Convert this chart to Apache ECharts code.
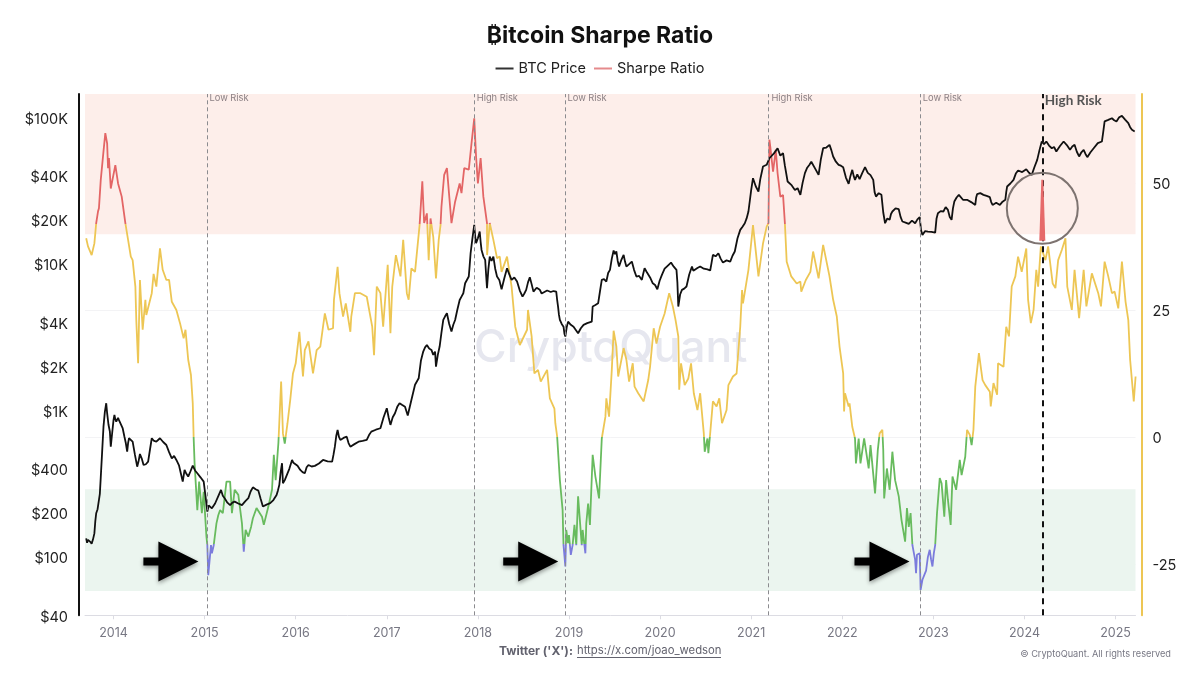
<!DOCTYPE html>
<html>
<head>
<meta charset="utf-8">
<title>Bitcoin Sharpe Ratio</title>
<script src="https://cdn.jsdelivr.net/npm/echarts@6/dist/echarts.min.js"></script>
<style>
  html, body { margin: 0; padding: 0; background: #fff; }
  #chart { width: 1200px; height: 675px; }
</style>
</head>
<body>
<div id="chart"></div>
<script>
// [decimal year, price in USD]
const priceData = [
  [2013.70,134],[2013.71,125],[2013.72,131],[2013.73,135],[2013.745,127],[2013.76,123],[2013.775,132],[2013.79,145],[2013.80,175],[2013.81,199],
  [2013.825,212],[2013.84,209],[2013.85,270],[2013.86,350],[2013.875,520],[2013.89,776],[2013.905,980],[2013.92,1122],[2013.93,959],[2013.945,800],
  [2013.96,720],[2013.97,567],[2013.985,700],[2014.00,860],[2014.01,933],[2014.02,870],[2014.03,840],[2014.05,890],[2014.06,860],[2014.08,840],
  [2014.10,760],[2014.12,663],[2014.135,600],[2014.15,524],[2014.16,600],[2014.17,647],[2014.19,630],[2014.21,613],[2014.235,500],[2014.26,414],
  [2014.275,450],[2014.29,505],[2014.31,470],[2014.33,425],[2014.355,430],[2014.38,448],[2014.40,540],[2014.42,647],[2014.445,620],[2014.47,613],
  [2014.49,630],[2014.51,647],[2014.545,610],[2014.58,582],[2014.61,520],[2014.64,472],[2014.665,490],[2014.69,460],[2014.72,420],[2014.74,370],
  [2014.76,327],[2014.78,393],[2014.80,370],[2014.82,354],[2014.845,385],[2014.87,421],[2014.895,390],[2014.92,373],[2014.955,350],[2014.99,327],
  [2015.01,260],[2015.03,204],[2015.045,225],[2015.06,226],[2015.08,215],[2015.10,221],[2015.115,232],[2015.13,239],[2015.155,265],[2015.18,287],
  [2015.20,262],[2015.22,252],[2015.25,235],[2015.28,226],[2015.305,235],[2015.33,239],[2015.37,232],[2015.41,226],[2015.445,240],[2015.48,252],
  [2015.505,280],[2015.53,299],[2015.56,290],[2015.59,284],[2015.615,250],[2015.64,221],[2015.68,228],[2015.72,233],[2015.755,245],[2015.79,265],
  [2015.805,285],[2015.82,310],[2015.835,380],[2015.85,437],[2015.86,319],[2015.88,335],[2015.90,327],[2015.93,400],[2015.96,460],[2015.975,440],
  [2015.99,448],[2016.02,420],[2016.05,393],[2016.075,380],[2016.10,373],[2016.12,410],[2016.14,425],[2016.175,415],[2016.21,419],[2016.255,435],
  [2016.30,460],[2016.35,450],[2016.40,448],[2016.415,500],[2016.43,567],[2016.445,670],[2016.46,737],[2016.475,660],[2016.49,630],[2016.525,650],
  [2016.56,663],[2016.58,600],[2016.60,567],[2016.645,590],[2016.69,613],[2016.735,620],[2016.78,630],[2016.805,680],[2016.83,718],[2016.88,740],
  [2016.93,757],[2016.965,900],[2017.00,1037],[2017.02,900],[2017.04,798],[2017.065,900],[2017.09,959],[2017.115,1060],[2017.14,1122],[2017.17,1090],
  [2017.20,1060],[2017.23,925],[2017.27,1180],[2017.31,1500],[2017.35,1661],[2017.375,2200],[2017.40,2527],[2017.42,2700],[2017.44,2806],[2017.465,2650],
  [2017.49,2594],[2017.51,2400],[2017.53,2527],[2017.54,1995],[2017.56,2400],[2017.58,2735],[2017.60,3400],[2017.62,4156],[2017.64,4400],[2017.66,4616],
  [2017.685,3900],[2017.71,3460],[2017.73,3850],[2017.75,4156],[2017.775,4900],[2017.80,5690],[2017.82,6000],[2017.84,6324],[2017.86,7396],[2017.88,7500],
  [2017.90,8222],[2017.91,9800],[2017.92,11860],[2017.94,15000],[2017.96,18530],[2017.97,15500],[2017.98,13880],[2018.00,15000],[2018.02,16680],[2018.03,14200],
  [2018.04,12500],[2018.06,11300],[2018.08,10690],[2018.09,8500],[2018.10,6840],[2018.115,9200],[2018.13,11250],[2018.15,10500],[2018.17,11250],[2018.19,9300],
  [2018.21,8222],[2018.235,7800],[2018.26,6730],[2018.29,8000],[2018.32,9370],[2018.345,8500],[2018.37,7800],[2018.40,8100],[2018.43,7600],[2018.46,6600],
  [2018.49,6000],[2018.51,6300],[2018.53,6670],[2018.55,7500],[2018.57,8130],[2018.59,7300],[2018.61,6490],[2018.645,6900],[2018.68,6670],[2018.70,6300],
  [2018.72,6490],[2018.76,6600],[2018.80,6450],[2018.83,6550],[2018.86,6490],[2018.87,5700],[2018.88,5130],[2018.89,4500],[2018.90,4156],[2018.92,3900],
  [2018.94,3740],[2018.95,3350],[2018.96,3200],[2018.975,3700],[2018.99,4050],[2019.02,3850],[2019.05,3740],[2019.075,3550],[2019.10,3370],[2019.13,3650],
  [2019.16,3845],[2019.20,3950],[2019.25,4050],[2019.26,5130],[2019.29,5250],[2019.32,5400],[2019.34,6500],[2019.36,7800],[2019.385,7900],[2019.41,7600],
  [2019.43,8700],[2019.45,9130],[2019.47,10900],[2019.49,12370],[2019.505,11700],[2019.52,12190],[2019.535,10500],[2019.55,9620],[2019.575,10700],[2019.60,11560],
  [2019.615,10400],[2019.63,9620],[2019.66,10000],[2019.69,10400],[2019.715,9100],[2019.74,8222],[2019.77,8300],[2019.80,7800],[2019.815,8600],[2019.83,9370],
  [2019.85,8900],[2019.87,9130],[2019.895,8000],[2019.92,7396],[2019.945,7200],[2019.97,6730],[2019.995,7700],[2020.02,8440],[2020.05,9300],[2020.08,9700],
  [2020.12,10240],[2020.15,9600],[2020.18,9130],[2020.19,7500],[2020.20,5130],[2020.22,6200],[2020.24,6670],[2020.265,6800],[2020.29,7030],[2020.32,8500],
  [2020.35,9620],[2020.365,9000],[2020.38,8890],[2020.41,9400],[2020.44,9620],[2020.48,9300],[2020.52,9200],[2020.55,9040],[2020.565,10200],[2020.58,11560],
  [2020.61,11300],[2020.64,11860],[2020.665,10900],[2020.69,10240],[2020.73,10600],[2020.77,10400],[2020.795,11400],[2020.82,12190],[2020.85,15000],[2020.88,17130],
  [2020.905,18000],[2020.93,19010],[2020.95,20500],[2020.97,22860],[2021.00,32000],[2021.02,38600],[2021.05,34000],[2021.08,31260],[2021.10,38000],[2021.13,46350],
  [2021.15,45500],[2021.17,47650],[2021.20,52800],[2021.22,51500],[2021.25,57000],[2021.29,61800],[2021.32,55000],[2021.35,57200],[2021.37,47000],[2021.40,36640],
  [2021.42,37500],[2021.44,34760],[2021.46,35500],[2021.48,32100],[2021.51,33000],[2021.54,29700],[2021.565,36000],[2021.59,41800],[2021.615,45500],[2021.64,47650],
  [2021.66,50000],[2021.68,48900],[2021.71,44000],[2021.74,40640],[2021.765,52000],[2021.79,61800],[2021.825,62500],[2021.86,65200],[2021.88,60000],[2021.90,54300],
  [2021.93,50000],[2021.96,47650],[2021.985,47000],[2022.01,45900],[2022.04,39000],[2022.07,35300],[2022.09,40000],[2022.11,44000],[2022.125,40000],[2022.14,37600],
  [2022.165,41000],[2022.19,38000],[2022.22,42000],[2022.25,45900],[2022.28,42000],[2022.31,40500],[2022.34,37600],[2022.355,31000],[2022.37,28900],[2022.40,30500],
  [2022.43,29700],[2022.45,22500],[2022.47,19010],[2022.495,20500],[2022.52,20050],[2022.535,22000],[2022.55,22860],[2022.585,24000],[2022.62,23700],[2022.64,21000],
  [2022.66,19530],[2022.695,19200],[2022.73,18820],[2022.765,19800],[2022.80,19010],[2022.825,20200],[2022.85,20900],[2022.865,17000],[2022.88,15830],[2022.91,16800],
  [2022.94,16680],[2022.98,16600],[2023.02,16410],[2023.035,20500],[2023.05,22250],[2023.08,23000],[2023.11,22860],[2023.135,24500],[2023.16,23440],[2023.18,21000],
  [2023.20,20050],[2023.215,24000],[2023.23,26730],[2023.255,28500],[2023.28,29700],[2023.325,27500],[2023.37,27480],[2023.415,26500],[2023.46,25350],[2023.47,28500],
  [2023.48,30000],[2023.515,30500],[2023.55,29700],[2023.585,29200],[2023.62,28640],[2023.635,26500],[2023.65,25350],[2023.69,26200],[2023.73,25350],[2023.76,26700],
  [2023.79,27480],[2023.80,31000],[2023.81,33880],[2023.845,35500],[2023.88,37600],[2023.905,41500],[2023.93,43550],[2023.975,42500],[2024.02,44460],[2024.05,42000],
  [2024.08,40640],[2024.11,46000],[2024.14,51500],[2024.165,60000],[2024.19,68700],[2024.215,66000],[2024.24,68700],[2024.27,64500],[2024.30,61800],[2024.325,63000],
  [2024.35,58700],[2024.39,64000],[2024.43,68700],[2024.465,65000],[2024.50,60250],[2024.525,63500],[2024.55,65200],[2024.575,58500],[2024.60,54300],[2024.625,58000],
  [2024.65,60250],[2024.67,56500],[2024.69,53700],[2024.725,58000],[2024.76,61800],[2024.805,67000],[2024.85,68700],[2024.865,80000],[2024.88,94200],[2024.92,96500],
  [2024.96,99100],[2024.985,96000],[2025.01,94200],[2025.04,100500],[2025.07,102800],[2025.105,97000],[2025.14,91700],[2025.16,86000],[2025.18,82600],[2025.21,80400]
];

// [decimal year, sharpe ratio]
const sharpeData = [
  [2013.70,39.2],[2013.72,37.6],[2013.74,37.9],[2013.76,35.9],[2013.79,38.2],[2013.81,42.2],[2013.83,44.5],[2013.84,45.1],
  [2013.86,50.7],[2013.89,56.3],[2013.91,59.9],[2013.93,57.9],[2013.94,53.0],[2013.95,55.0],[2013.97,49.0],[2014.02,53.6],
  [2014.05,50.0],[2014.09,47.4],[2014.13,42.2],[2014.16,38.9],[2014.19,35.6],[2014.21,34.9],[2014.24,29.7],[2014.25,23.1],
  [2014.27,14.6],[2014.29,31.0],[2014.32,21.2],[2014.35,27.1],[2014.36,24.1],[2014.42,28.4],[2014.44,32.2],[2014.47,29.7],
  [2014.51,37.2],[2014.54,33.0],[2014.58,31.0],[2014.61,31.0],[2014.64,26.7],[2014.69,25.1],[2014.73,22.5],[2014.77,19.5],
  [2014.79,21.2],[2014.82,15.3],[2014.85,12.3],[2014.87,6.7],[2014.88,-0.2],[2014.89,-5.1],[2014.92,-14.3],[2014.94,-8.7],
  [2014.97,-14.9],[2014.99,-10.7],[2015.02,-19.5],[2015.03,-21.2],[2015.04,-27.1],[2015.07,-21.2],[2015.08,-22.8],[2015.10,-21.2],
  [2015.13,-16.9],[2015.15,-15.3],[2015.17,-14.3],[2015.20,-14.9],[2015.24,-8.7],[2015.28,-8.7],[2015.30,-14.9],[2015.33,-10.3],
  [2015.37,-11.3],[2015.41,-16.9],[2015.43,-22.5],[2015.45,-18.2],[2015.48,-19.5],[2015.51,-17.6],[2015.53,-15.9],[2015.57,-13.9],
  [2015.63,-15.6],[2015.65,-17.2],[2015.70,-13.6],[2015.74,-10.3],[2015.76,-3.4],[2015.78,-8.4],[2015.81,-1.1],[2015.84,11.0],
  [2015.86,0.8],[2015.88,-1.2],[2015.91,2.8],[2015.94,7.4],[2015.97,12.6],[2016.00,14.6],[2016.04,20.8],[2016.08,12.0],
  [2016.10,17.2],[2016.14,18.9],[2016.16,18.9],[2016.19,12.6],[2016.23,17.2],[2016.27,17.9],[2016.30,21.8],[2016.32,24.4],
  [2016.36,21.2],[2016.41,21.5],[2016.42,27.1],[2016.46,33.6],[2016.48,28.4],[2016.52,23.8],[2016.55,26.4],[2016.60,20.8],
  [2016.61,23.8],[2016.65,28.4],[2016.71,28.4],[2016.78,27.7],[2016.84,21.8],[2016.86,16.2],[2016.89,29.7],[2016.93,28.4],
  [2016.96,21.8],[2017.01,34.0],[2017.04,20.5],[2017.06,29.7],[2017.10,35.9],[2017.15,31.7],[2017.18,38.9],[2017.22,28.4],
  [2017.24,27.1],[2017.27,33.3],[2017.31,32.6],[2017.36,41.8],[2017.39,50.4],[2017.41,42.2],[2017.44,44.1],[2017.46,34.9],
  [2017.48,43.1],[2017.51,39.5],[2017.54,31.3],[2017.57,38.9],[2017.59,41.8],[2017.60,45.4],[2017.63,51.7],[2017.66,53.0],
  [2017.71,42.2],[2017.75,46.4],[2017.80,50.0],[2017.82,48.1],[2017.85,53.0],[2017.90,52.7],[2017.93,57.9],[2017.96,62.8],
  [2017.98,55.3],[2018.00,50.0],[2018.03,55.0],[2018.06,47.4],[2018.10,42.2],[2018.101,35.9],[2018.13,42.2],[2018.17,38.9],
  [2018.21,35.3],[2018.24,35.6],[2018.26,32.6],[2018.32,35.6],[2018.37,29.7],[2018.41,21.8],[2018.46,18.2],[2018.54,21.2],
  [2018.55,25.1],[2018.59,19.9],[2018.62,12.6],[2018.66,13.3],[2018.69,11.0],[2018.76,13.3],[2018.79,7.7],[2018.84,5.7],
  [2018.85,2.8],[2018.87,0.2],[2018.90,-8.4],[2018.93,-14.3],[2018.94,-21.2],[2018.96,-25.4],[2018.97,-18.2],[2018.99,-20.8],
  [2019.00,-19.2],[2019.02,-23.1],[2019.04,-21.2],[2019.06,-17.2],[2019.08,-21.2],[2019.10,-11.6],[2019.14,-21.2],[2019.15,-18.2],
  [2019.18,-22.8],[2019.19,-16.9],[2019.21,-13.0],[2019.23,-17.2],[2019.26,-3.4],[2019.29,-7.7],[2019.33,-12.0],[2019.36,-0.2],
  [2019.40,4.1],[2019.41,7.7],[2019.44,4.1],[2019.47,13.3],[2019.49,21.0],[2019.52,17.9],[2019.54,12.0],[2019.60,17.6],
  [2019.63,15.3],[2019.66,11.0],[2019.70,14.6],[2019.72,10.0],[2019.76,8.7],[2019.82,7.1],[2019.87,11.3],[2019.89,13.9],
  [2019.93,21.5],[2019.96,18.5],[2020.00,21.8],[2020.05,24.4],[2020.10,28.4],[2020.14,25.8],[2020.17,23.1],[2020.20,19.9],
  [2020.21,9.4],[2020.23,14.6],[2020.27,10.3],[2020.31,11.6],[2020.34,14.6],[2020.37,8.7],[2020.41,5.4],[2020.44,8.7],
  [2020.48,0.8],[2020.49,-2.8],[2020.52,-0.2],[2020.53,-3.1],[2020.55,0.8],[2020.58,7.1],[2020.62,6.1],[2020.65,7.7],
  [2020.68,2.8],[2020.73,5.4],[2020.75,10.3],[2020.80,12.0],[2020.84,12.6],[2020.88,21.8],[2020.90,29.0],[2020.91,26.4],
  [2020.97,33.0],[2021.02,41.8],[2021.08,31.7],[2021.13,38.2],[2021.17,41.5],[2021.19,42.2],[2021.20,58.6],[2021.21,57.2],
  [2021.24,52.3],[2021.27,56.6],[2021.29,52.0],[2021.32,47.4],[2021.35,47.7],[2021.37,42.2],[2021.39,34.6],[2021.44,31.7],
  [2021.50,30.3],[2021.54,30.7],[2021.55,28.7],[2021.60,31.0],[2021.65,32.6],[2021.68,36.6],[2021.74,31.3],[2021.79,37.9],
  [2021.86,31.7],[2021.90,27.1],[2021.94,23.8],[2021.97,17.9],[2022.01,12.6],[2022.02,5.1],[2022.03,8.7],[2022.07,6.1],
  [2022.08,6.7],[2022.11,2.1],[2022.14,-0.2],[2022.15,-5.1],[2022.18,-0.2],[2022.20,-5.1],[2022.24,-0.2],[2022.29,-6.1],
  [2022.31,-1.5],[2022.36,-11.0],[2022.39,-2.5],[2022.41,0.8],[2022.44,1.5],[2022.45,-2.5],[2022.46,-12.0],[2022.49,-6.1],
  [2022.52,-10.3],[2022.55,-2.8],[2022.58,-8.4],[2022.62,-11.6],[2022.65,-16.2],[2022.69,-20.5],[2022.71,-13.9],[2022.73,-17.6],
  [2022.75,-14.9],[2022.77,-21.2],[2022.80,-24.1],[2022.81,-26.7],[2022.82,-23.1],[2022.85,-22.8],[2022.86,-30.0],[2022.88,-28.0],
  [2022.90,-27.1],[2022.92,-26.2],[2022.94,-23.5],[2022.96,-22.1],[2022.975,-24.0],[2022.99,-25.4],[2023.005,-22.8],[2023.02,-21.2],
  [2023.04,-14.9],[2023.07,-8.0],[2023.09,-9.0],[2023.12,-15.6],
  [2023.14,-8.4],[2023.16,-12.3],[2023.19,-17.2],[2023.21,-7.7],[2023.25,-10.3],[2023.29,-4.4],[2023.31,-7.4],[2023.35,-3.8],
  [2023.37,1.5],[2023.40,0.5],[2023.42,-1.5],[2023.44,1.5],[2023.46,10.0],[2023.48,13.3],[2023.50,16.6],[2023.54,11.3],
  [2023.57,10.3],[2023.62,9.0],[2023.63,6.1],[2023.66,10.7],[2023.70,8.4],[2023.71,14.6],[2023.77,13.9],[2023.80,21.8],
  [2023.83,19.9],[2023.86,29.7],[2023.90,31.7],[2023.93,35.6],[2023.97,32.6],[2024.02,37.2],[2024.04,27.1],[2024.07,22.5],
  [2024.10,25.1],[2024.13,33.0],[2024.15,29.7],[2024.18,37.6],[2024.23,34.9],[2024.26,37.6],[2024.31,30.3],[2024.34,29.4],
  [2024.37,34.9],[2024.41,36.9],[2024.45,39.2],[2024.47,29.7],[2024.52,25.1],[2024.55,33.0],[2024.60,23.5],[2024.65,33.0],
  [2024.68,25.8],[2024.74,32.3],[2024.81,28.4],[2024.84,25.8],[2024.88,34.6],[2024.92,31.7],[2024.96,28.4],[2024.99,28.7],
  [2025.03,25.4],[2025.07,34.6],[2025.11,26.7],[2025.14,23.1],[2025.16,15.3],[2025.20,7.1],[2025.22,12.0]
];

const yearTicks = [2014, 2015, 2016, 2017, 2018, 2019, 2020, 2021, 2022, 2023, 2024, 2025];
const priceTicks = [40, 100, 200, 400, 1000, 2000, 4000, 10000, 20000, 40000, 100000];
const sharpeTicks = [-25, 0, 25, 50];

const riskYears = [2015.026, 2017.96, 2018.956, 2021.195, 2022.857];
const riskLabels = ['Low Risk', 'High Risk', 'Low Risk', 'High Risk', 'Low Risk'];
const highRiskYear = 2024.196;
const arrowYears = [2014.63, 2018.58, 2022.436];

const FONT = 'Inter, "Noto Sans", sans-serif';

function formatPrice(v) {
  return '{p|' + (v >= 1000 ? '$' + Math.round(v / 1000) + 'K' : '$' + Math.round(v)) + '}';
}

const chart = echarts.init(document.getElementById('chart'));

chart.setOption({
  animation: false,
  backgroundColor: '#fff',
  textStyle: { fontFamily: FONT },
  title: {
    text: '₿itcoin Sharpe Ratio',
    left: 'center',
    top: 20,
    textStyle: { fontSize: 23, fontWeight: 700, color: '#111', fontFamily: FONT }
  },
  legend: {
    top: 56,
    left: 'center',
    itemWidth: 18,
    itemHeight: 2,
    itemGap: 8,
    icon: 'rect',
    textStyle: { fontSize: 14.5, color: '#222', fontFamily: FONT },
    data: [
      { name: 'BTC Price', itemStyle: { color: '#333' } },
      { name: 'Sharpe Ratio', itemStyle: { color: '#e58a8c' } }
    ]
  },
  grid: { left: 85, right: 64.5, top: 94, bottom: 59.7 },
  xAxis: {
    type: 'value',
    min: 2013.687,
    max: 2025.219,
    axisLine: { onZero: false, lineStyle: { color: '#dcdce3', width: 1 } },
    axisTick: { show: true, length: 4, lineStyle: { color: '#dcdce3' }, customValues: yearTicks },
    axisLabel: {
      color: '#777783', fontSize: 12.5, margin: 11, hideOverlap: false,
      customValues: yearTicks,
      formatter: v => String(v)
    },
    splitLine: { show: false }
  },
  yAxis: [
    {
      type: 'log',
      logBase: 10,
      min: 40,
      max: 145000,
      offset: 6,
      axisLine: { show: true, lineStyle: { color: '#111', width: 2 } },
      axisTick: { show: false, customValues: priceTicks },
      axisLabel: {
        color: '#222', margin: 11, customValues: priceTicks, formatter: formatPrice,
        // nudges the text a touch below the tick, as in the original
        rich: { p: { fontSize: 14.5, color: '#222', fontFamily: FONT, height: 20, lineHeight: 16, verticalAlign: 'top' } }
      },
      splitLine: { show: false }
    },
    {
      type: 'value',
      position: 'right',
      min: -35,
      max: 67.6,
      offset: 6,
      axisLine: { show: true, lineStyle: { color: '#edc654', width: 2 } },
      axisTick: { show: false, customValues: sharpeTicks },
      axisLabel: {
        color: '#222', margin: 11, customValues: sharpeTicks,
        formatter: v => '{p|' + v + '}',
        rich: { p: { fontSize: 14.5, color: '#222', fontFamily: FONT, height: 18, lineHeight: 16, verticalAlign: 'top' } }
      },
      splitLine: { show: true, lineStyle: { color: '#f3f3f5', width: 1 } }
    }
  ],
  visualMap: {
    show: false,
    seriesIndex: 1,
    dimension: 1,
    pieces: [
      { lt: -21, color: '#7b7bdc' },
      { gte: -21, lt: 0, color: '#68bb5e' },
      { gte: 0, lt: 42, color: '#edc654' },
      { gte: 42, color: '#e36565' }
    ]
  },
  graphic: [
    {
      type: 'text', left: 474, top: 326, z: 0, silent: true,
      style: { text: 'CryptoQuant', fontFamily: FONT, fontSize: 44.5, fontWeight: 500, fill: '#e6e7ef' }
    },
    {
      type: 'text', left: 499, top: 645, z: 5,
      style: { text: "Twitter ('X'):", fontFamily: FONT, fontSize: 12, fontWeight: 700, fill: '#62626e' }
    },
    {
      type: 'text', left: 577, top: 645, z: 5,
      style: { text: 'https://x.com/joao_wedson', fontFamily: FONT, fontSize: 11.3, fill: '#62626e' }
    },
    { type: 'line', z: 5, shape: { x1: 577, y1: 657.5, x2: 721, y2: 657.5 }, style: { stroke: '#62626e', lineWidth: 1 } },
    {
      type: 'text', right: 29, top: 650, z: 5,
      style: { text: '© CryptoQuant. All rights reserved', fontFamily: FONT, fontSize: 9.2, fill: '#777783' }
    }
  ],
  series: [
    {
      name: 'BTC Price',
      type: 'line',
      yAxisIndex: 0,
      z: 4,
      showSymbol: false,
      sampling: 'none',
      data: priceData,
      lineStyle: { color: '#111', width: 1.8 },
      itemStyle: { color: '#111' }
    },
    {
      name: 'Sharpe Ratio',
      type: 'line',
      yAxisIndex: 1,
      z: 3,
      showSymbol: false,
      sampling: 'none',
      data: sharpeData,
      lineStyle: { width: 1.8 },
      markArea: {
        silent: true,
        z: 1,
        data: [
          [{ yAxis: 40, itemStyle: { color: '#fdeeea' } }, { yAxis: 67.6 }],
          [{ yAxis: -30.2, itemStyle: { color: '#ebf5ef' } }, { yAxis: -10.2 }]
        ]
      },
      markLine: {
        silent: true,
        symbol: 'none',
        label: { show: false },
        data: riskYears.map(y => ({ xAxis: y, lineStyle: { color: '#8b8b8f', width: 1, type: [4, 3] } }))
          .concat([{ xAxis: highRiskYear, lineStyle: { color: '#111', width: 2, type: [6, 5] } }])
      },
      markPoint: {
        silent: true,
        data: riskYears.map((y, i) => ({
          coord: [y, 66.8],
          symbol: 'circle',
          symbolSize: 1,
          itemStyle: { color: 'transparent' },
          label: { show: true, position: 'right', distance: 2, formatter: riskLabels[i], fontSize: 9.3, color: '#8c8185', fontFamily: FONT }
        })).concat([
          {
            coord: [highRiskYear, 66.3],
            symbol: 'circle',
            symbolSize: 1,
            itemStyle: { color: 'transparent' },
            label: { show: true, position: 'right', distance: 2, formatter: 'High Risk', fontSize: 13.5, fontWeight: 700, color: '#555', fontFamily: 'Lato, ' + FONT }
          },
          {
            coord: [highRiskYear, 44.7],
            symbol: 'path://M2 0H4L6 61H0Z',
            symbolSize: [6, 61],
            symbolKeepAspect: false,
            itemStyle: { color: '#e66a6a' },
            label: { show: false }
          },
          {
            coord: [highRiskYear, 45.1],
            symbol: 'circle',
            symbolSize: 71,
            itemStyle: { color: 'transparent', borderColor: '#7d7370', borderWidth: 2 },
            label: { show: false }
          }
        ]).concat(arrowYears.map(y => ({
          coord: [y, -24.4],
          symbol: 'path://M0 16H15V0L55 20L15 40V24H0Z',
          symbolSize: [55, 40],
          itemStyle: { color: '#000', shadowColor: 'rgba(0,0,0,0.4)', shadowBlur: 4, shadowOffsetY: 2 },
          label: { show: false }
        })))
      }
    }
  ]
});
</script>
</body>
</html>
